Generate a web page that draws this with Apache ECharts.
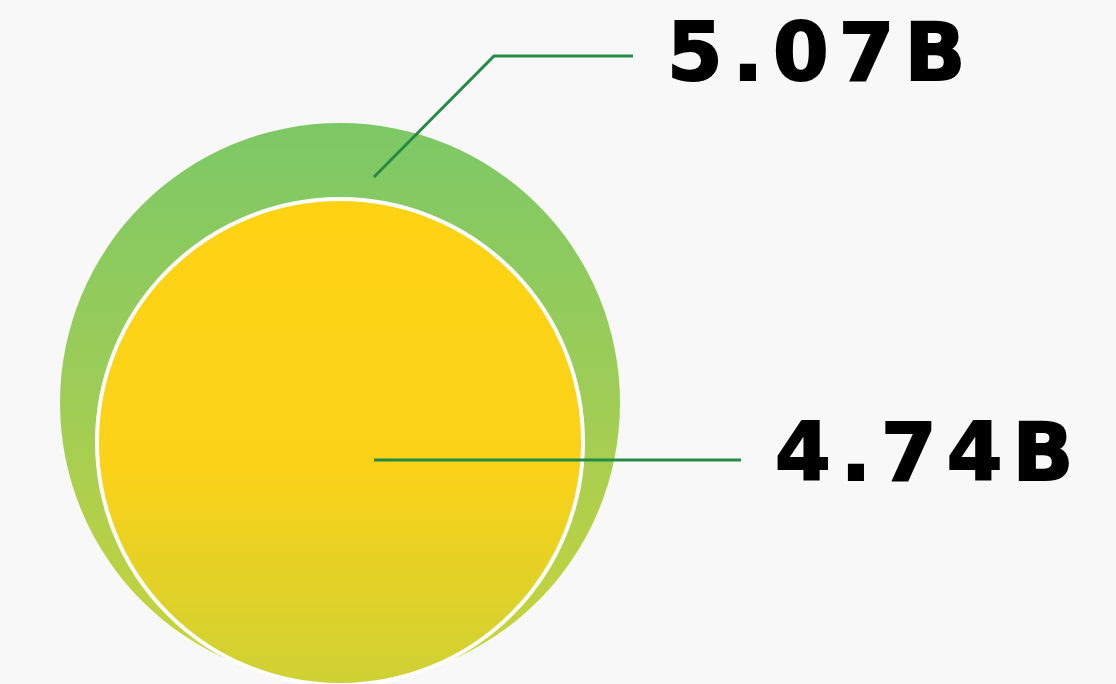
<!DOCTYPE html>
<html>
<head>
<meta charset="utf-8">
<script src="https://cdn.jsdelivr.net/npm/echarts@6/dist/echarts.min.js"></script>
<style>
  html, body { margin: 0; padding: 0; background: #f8f8f8; }
  #chart { width: 1116px; height: 684px; }
</style>
</head>
<body>
<div id="chart"></div>
<script>
// Two nested circles, each carrying one total (billions)
const circleNames = ['Outer', 'Inner'];
const valuesBillions = [5.07, 4.74];

// Drawing geometry (pixels)
const outerCircle = { center: [340, 403], radius: 280 };
const innerCircle = { center: [340, 442], radius: 243 };
// Callout line offsets from each circle's centre
const outerCallout = [[34, -226], [154, -347], [293, -347]];
const innerCallout = [[34, 18], [401, 18]];
const labelGap = 34;
const labelYOffset = [3, -1];

const chart = echarts.init(document.getElementById('chart'), null, { renderer: 'canvas' });

// Value text, one rich segment per character so the figures sit slightly tracked out
function fmt(v) {
  const chars = (v.toFixed(2) + 'B').split('');
  return chars.map((c, i) => '{' + (i < chars.length - 1 ? 'c' : 'e') + '|' + c + '}').join('');
}

function calloutLayout(circle, offsets, yOffset) {
  return function () {
    const pts = offsets.map(p => [circle.center[0] + p[0], circle.center[1] + p[1]]);
    const last = pts[pts.length - 1];
    return {
      x: last[0] + labelGap,
      y: last[1] + yOffset,
      align: 'left',
      verticalAlign: 'middle',
      labelLinePoints: pts
    };
  };
}

const glyph = {
  fontFamily: 'DejaVu Sans', fontWeight: 'bold', fontSize: 80, color: '#000000',
  textBorderColor: '#000000', textBorderWidth: 2
};
const labelStyle = {
  show: true,
  position: 'outside',
  formatter: p => fmt(p.value),
  rich: {
    c: Object.assign({ padding: [0, 10, 0, 0] }, glyph),
    e: Object.assign({}, glyph)
  }
};
const lineStyle = { color: '#238b45', width: 3 };

const outerFill = new echarts.graphic.LinearGradient(0, 0, 0, 1, [
  { offset: 0, color: '#7cc866' },
  { offset: 0.5, color: '#9fcd56' },
  { offset: 1, color: '#cdd438' }
]);
const innerFill = new echarts.graphic.LinearGradient(0, 0, 0, 1, [
  { offset: 0, color: '#fed314' },
  { offset: 0.55, color: '#fbd218' },
  { offset: 1, color: '#cdd134' }
]);

function discSeries(idx, circle, fill, border, z) {
  return {
    type: 'pie',
    name: circleNames[idx],
    center: circle.center,
    radius: [0, circle.radius],
    silent: true,
    z: z,
    data: [{ name: circleNames[idx], value: valuesBillions[idx] }],
    itemStyle: Object.assign({ color: fill }, border),
    label: { show: false },
    labelLine: { show: false }
  };
}

// Callouts sit in their own transparent layer so the lines run over both discs
function calloutSeries(idx, circle, offsets, yOffset) {
  return {
    type: 'pie',
    name: circleNames[idx] + ' callout',
    center: circle.center,
    radius: [0, circle.radius],
    silent: true,
    z: 5,
    data: [{ name: circleNames[idx], value: valuesBillions[idx] }],
    itemStyle: { color: 'rgba(0,0,0,0)' },
    label: labelStyle,
    labelLine: { show: true, lineStyle: lineStyle },
    labelLayout: calloutLayout(circle, offsets, yOffset)
  };
}

chart.setOption({
  backgroundColor: '#f8f8f8',
  animation: false,
  series: [
    discSeries(0, outerCircle, outerFill, {}, 1),
    discSeries(1, innerCircle, innerFill, { borderColor: '#ffffff', borderWidth: 4 }, 2),
    calloutSeries(0, outerCircle, outerCallout, labelYOffset[0]),
    calloutSeries(1, innerCircle, innerCallout, labelYOffset[1])
  ]
});
</script>
</body>
</html>
